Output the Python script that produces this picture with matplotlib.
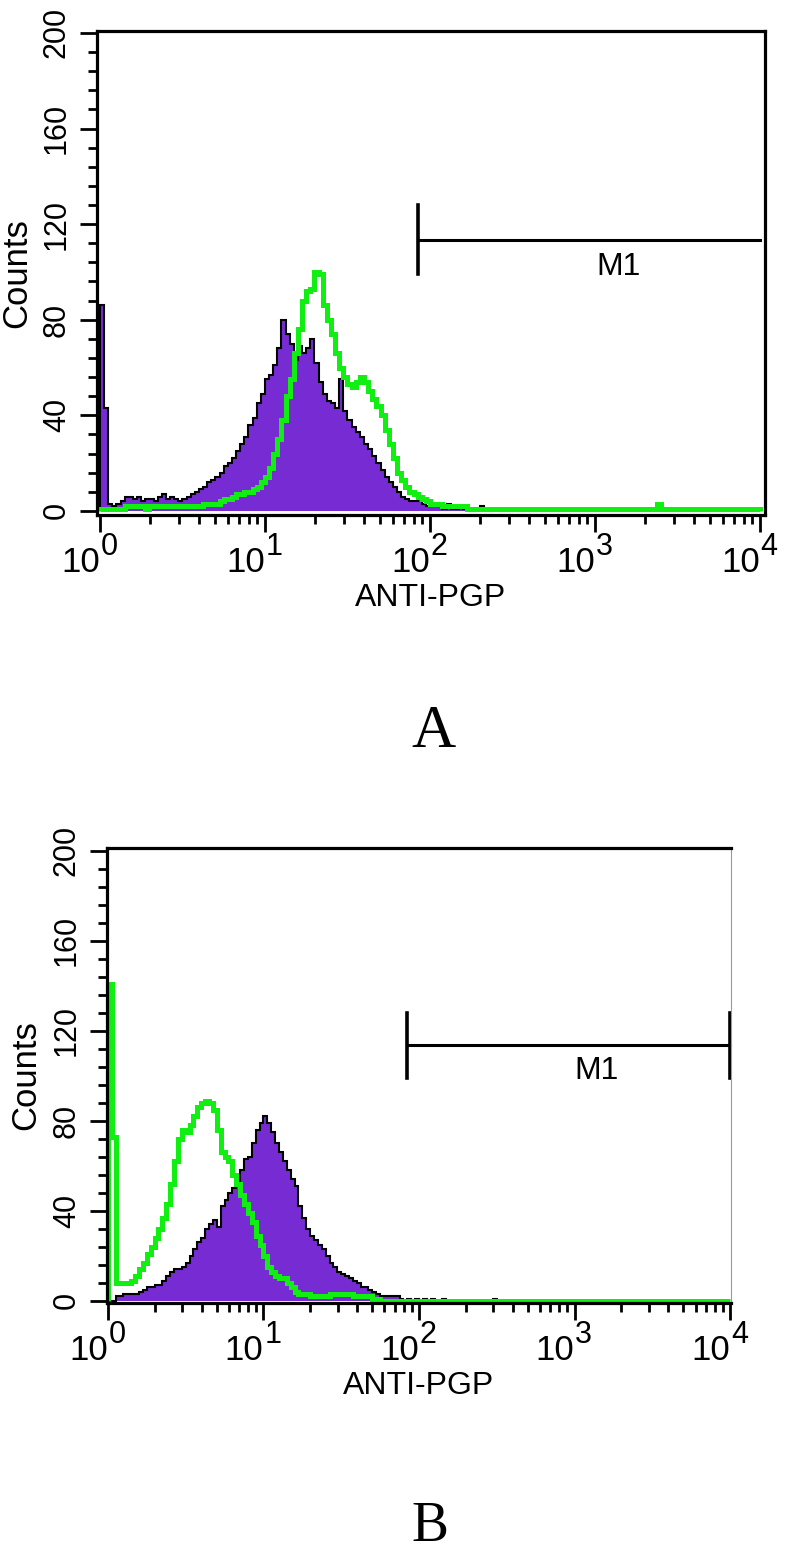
import numpy as np
import matplotlib
matplotlib.use('Agg')
import matplotlib.pyplot as plt
from matplotlib.ticker import FixedLocator, LogLocator, NullFormatter, MultipleLocator

plt.rcParams['font.family'] = ['Liberation Sans', 'DejaVu Sans']

# histogram channels: 160 channels, 0.025 decade each, from 10^0 to 10^4
chan_width = 0.025
n_chan = 160

# panel A
purple_a = [86, 43, 3, 2, 3, 4, 6, 6, 5, 6,
            4, 5, 5, 4, 6, 7, 5, 6, 5, 4,
            5, 6, 7, 8, 9, 10, 12, 13, 14, 16,
            19, 20, 22, 25, 28, 31, 36, 39, 45, 49,
            55, 57, 61, 68, 80, 74, 70, 63, 69, 66,
            68, 72, 62, 54, 49, 46, 45, 43, 55, 42,
            38, 35, 33, 31, 28, 26, 23, 20, 17, 14,
            12, 10, 8, 6, 5, 4, 4, 6, 3, 2,
            3, 2, 2, 1, 3, 1, 1, 2, 1, 1,
            0, 1, 2, 1, 0, 1, 1, 0, 1, 0,
            1, 0, 0, 1, 0, 0, 1, 0, 0, 0] + [0] * 50
green_a = [1, 1, 1, 1, 1, 1, 2, 2, 2, 2,
           2, 1, 2, 2, 2, 2, 2, 2, 2, 2,
           2, 2, 2, 2, 2, 3, 3, 3, 3, 4,
           5, 5, 6, 7, 7, 8, 8, 9, 10, 12,
           14, 18, 24, 30, 38, 48, 55, 66, 76, 88,
           92, 93, 100, 99, 86, 80, 74, 66, 60, 56,
           53, 52, 54, 56, 54, 50, 47, 44, 40, 34,
           28, 22, 16, 13, 10, 8, 7, 6, 5, 4,
           3, 3, 3, 2, 2, 2, 2, 2, 2, 1,
           1, 1, 1, 1, 1, 1, 1, 1, 1, 1,
           1, 1, 1, 1, 1, 1, 1, 1, 1, 1,
           1, 1, 1, 1, 1, 1, 1, 1, 1, 1,
           1, 1, 1, 1, 1, 1, 1, 1, 1, 1,
           1, 1, 1, 1, 1, 3, 1, 1, 1, 1,
           1, 1, 1, 1, 1, 1, 1, 1, 1, 1,
           1, 1, 1, 1, 1, 1, 1, 1, 1, 1]

# panel B
purple_b = [0, 0, 2, 2, 3, 3, 3, 3, 4, 5,
            6, 6, 7, 7, 9, 11, 13, 14, 14, 15,
            17, 20, 23, 26, 28, 32, 34, 36, 33, 42,
            45, 48, 50, 52, 58, 63, 64, 70, 76, 79,
            82, 79, 75, 70, 66, 62, 58, 54, 51, 42,
            37, 32, 29, 27, 25, 23, 20, 17, 15, 13,
            12, 11, 10, 9, 8, 6, 6, 5, 4, 3,
            2, 2, 2, 2, 2, 1, 0, 1, 0, 1,
            0, 1, 0, 1, 0, 0, 1, 0, 0, 0,
            0, 0, 0, 0, 0, 0, 0, 0, 0, 1] + [0] * 60
green_b = [141, 73, 8, 8, 8, 8, 9, 11, 14, 17,
           21, 24, 28, 32, 37, 43, 52, 62, 72, 76,
           75, 78, 82, 86, 88, 89, 88, 85, 76, 66,
           64, 62, 56, 52, 47, 43, 39, 35, 29, 25,
           20, 15, 13, 11, 10, 10, 8, 6, 4, 3,
           3, 3, 2, 2, 2, 2, 2, 3, 3, 3,
           3, 3, 3, 2, 2, 2, 2, 2, 1, 1] + [0] * 90

# M1 marker (same gate in both panels)
m1_lo, m1_hi = 84, 10000
m1_y = 113.5
m1_bar = (99, 128)

y_major = [0, 40, 80, 120, 160, 200]
x_exps = [0, 1, 2, 3, 4]

PURPLE = '#772bd3'
GREEN = '#11ee11'

W, H = 787, 1555
fig = plt.figure(figsize=(W / 100, H / 100), dpi=100)

edges = 10 ** (np.arange(n_chan + 1) * chan_width)


def px_axes(l, t, r, b):
    return fig.add_axes([l / W, 1 - b / H, (r - l) / W, (b - t) / H])


def draw_panel(ax, purple, green, xlim, ylim, right_bar, ax_px):
    ax.stairs(purple, edges, baseline=0, fill=True, color=PURPLE, lw=0)
    ax.stairs(purple, edges, baseline=0, color='black', lw=1.5)
    ax.stairs(green, edges, baseline=0, color=GREEN, lw=3.6)

    # M1 gate
    ax.plot([m1_lo, m1_hi], [m1_y, m1_y], color='black', lw=2.2, clip_on=False)
    ax.plot([m1_lo, m1_lo], m1_bar, color='black', lw=2.6)
    if right_bar:
        ax.plot([m1_hi, m1_hi], m1_bar, color='black', lw=2.6, clip_on=False)
    ax.text(10 ** 3.14, 102, 'M1', fontsize=23, ha='center', va='center')

    ax.set_xscale('log')
    ax.set_xlim(*xlim)
    ax.set_ylim(*ylim)

    ax.xaxis.set_major_locator(FixedLocator([10.0 ** e for e in x_exps]))
    ax.xaxis.set_minor_locator(LogLocator(base=10, subs=np.arange(2, 10)))
    ax.xaxis.set_major_formatter(NullFormatter())
    ax.xaxis.set_minor_formatter(NullFormatter())
    ax.set_yticks(y_major)
    ax.set_yticklabels([str(v) for v in y_major])
    ax.yaxis.set_minor_locator(MultipleLocator(8))

    ax.tick_params(which='major', direction='out', length=12, width=2, top=False, right=False)
    ax.tick_params(which='minor', direction='out', length=6.5, width=2, top=False, right=False)
    ax.tick_params(axis='y', labelrotation=90, labelsize=22, pad=6)
    for lab in ax.get_yticklabels():
        lab.set_va('center')

    for s in ax.spines.values():
        s.set_linewidth(2.3)

    # decade labels: "10" ending at the tick, exponent just after it
    for e in x_exps:
        ax.annotate('10', xy=(10.0 ** e, 0), xycoords=('data', 'axes fraction'),
                    xytext=(0, -41), textcoords='offset points',
                    ha='right', va='baseline', fontsize=25, annotation_clip=False)
        ax.annotate(str(e), xy=(10.0 ** e, 0), xycoords=('data', 'axes fraction'),
                    xytext=(0.5, -29), textcoords='offset points',
                    ha='left', va='baseline', fontsize=22, annotation_clip=False)

    l, t, r, b = ax_px
    ax.set_xlabel('ANTI-PGP', fontsize=23)
    ax.xaxis.set_label_coords(0.5, -68 / (b - t))
    ax.set_ylabel('Counts', fontsize=25)
    ax.yaxis.set_label_coords(-(l - 33) / (r - l), 0.5)


# panel A
a_px = (97, 31, 765, 515)
ax_a = px_axes(*a_px)
draw_panel(ax_a, purple_a, green_a, (10 ** -0.018, 10 ** 4.03), (-1.7, 200.8), False, a_px)

# panel B
b_px = (107, 848, 731, 1303)
ax_b = px_axes(*b_px)
draw_panel(ax_b, purple_b, green_b, (10 ** -0.006, 10 ** 4.006), (-1, 201.3), True, b_px)
ax_b.yaxis.set_label_coords(-(107 - 42) / (731 - 107), 0.5)
ax_b.spines['right'].set_linewidth(0.8)
ax_b.spines['right'].set_color('#9a9a9a')

fig.text(433 / W, 1 - 747 / H, 'A', family='Liberation Serif', fontsize=44, ha='center', va='baseline')
fig.text(430 / W, 1 - 1553 / H, 'B', family='Liberation Serif', fontsize=40, ha='center', va='bottom')

fig.savefig('out.png', dpi=100)
